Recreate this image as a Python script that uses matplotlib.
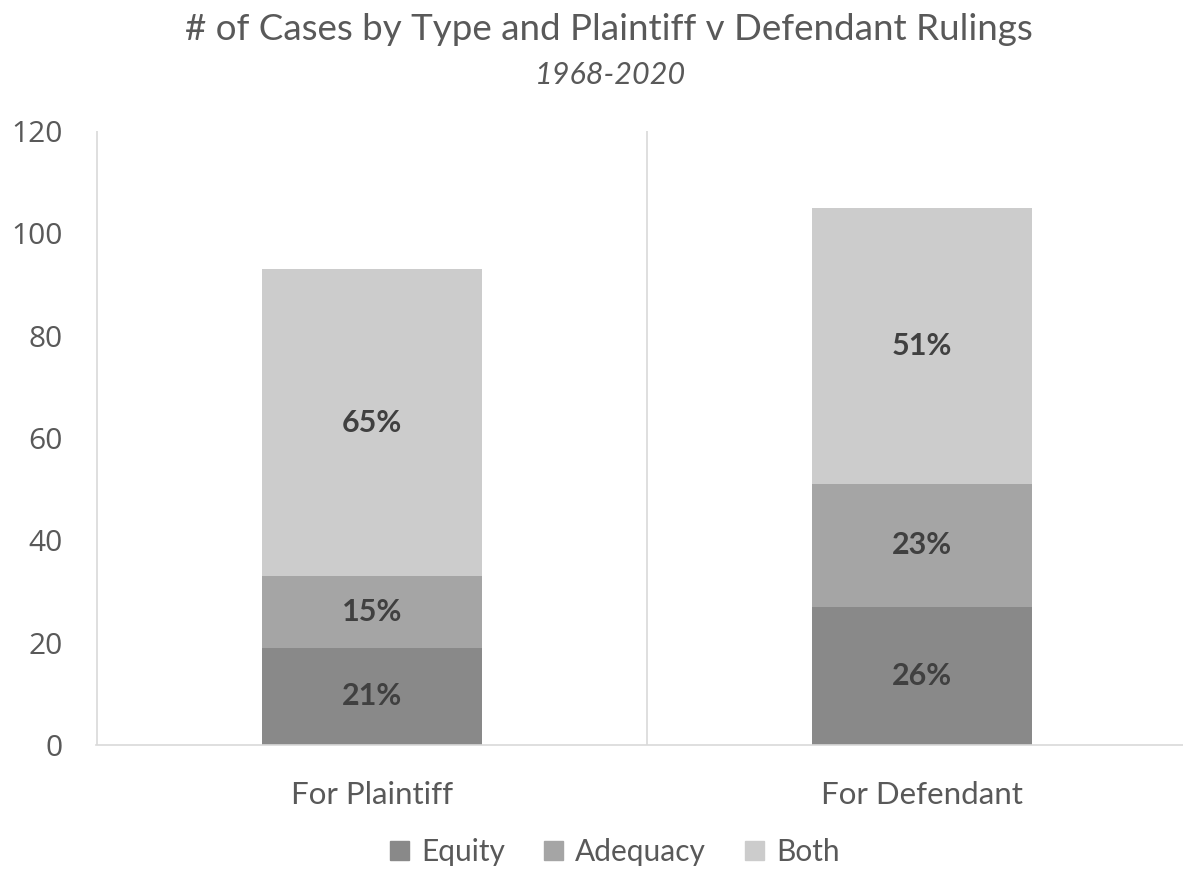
import matplotlib
matplotlib.use("Agg")
import matplotlib.pyplot as plt
from matplotlib.patches import Patch

categories = ["For Plaintiff", "For Defendant"]
series_names = ["Equity", "Adequacy", "Both"]
equity = [19, 27]
adequacy = [14, 24]
both = [60, 54]
pct_labels = {
    "Equity": ["21%", "26%"],
    "Adequacy": ["15%", "23%"],
    "Both": ["65%", "51%"],
}
yticks = [0, 20, 40, 60, 80, 100, 120]

colors = {"Equity": "#898989", "Adequacy": "#a5a5a5", "Both": "#cccccc"}
txt = "#595959"
font = "Lato"

fig = plt.figure(figsize=(11.83, 8.73), dpi=100)
ax = fig.add_axes([96 / 1183, 128 / 873, 1 - 96 / 1183, (745 - 131) / 873])

x = list(range(len(categories)))
bottom = [0, 0]
for name, vals in zip(series_names, [equity, adequacy, both]):
    bars = ax.bar(x, vals, width=0.4, bottom=bottom, color=colors[name], zorder=2)
    for i, b in enumerate(bars):
        ax.text(b.get_x() + b.get_width() / 2, bottom[i] + vals[i] / 2,
                pct_labels[name][i], ha="center", va="center",
                fontsize=22, fontweight="bold", color="#404040", family=font)
    bottom = [bo + v for bo, v in zip(bottom, vals)]

ax.set_ylim(0, 120)
ax.set_xlim(-0.502, 1.4745)
ax.set_yticks(yticks)
ax.set_yticklabels([str(t) for t in yticks], fontsize=21.5, color=txt, family="Open Sans")
ax.set_xticks(x)
ax.set_xticklabels(categories, fontsize=22.5, color=txt, family=font)
ax.tick_params(axis="both", length=0)
ax.tick_params(axis="y", pad=24)
ax.tick_params(axis="x", pad=26)
for s in ["top", "right", "left"]:
    ax.spines[s].set_visible(False)
ax.spines["bottom"].set_color("#d9d9d9")
ax.spines["bottom"].set_linewidth(1.2)
for xv in [-0.5, 0.5]:
    ax.axvline(xv, color="#d9d9d9", lw=1.2, zorder=1)

fig.text(609 / 1183, 1 - 30 / 873, "# of Cases by Type and Plaintiff v Defendant Rulings",
         ha="center", va="center", fontsize=26.5, color=txt, family=font)
fig.text(611 / 1183, 1 - 75 / 873, "1968-2020", ha="center", va="center",
         fontsize=22, color=txt, family=font, style="italic")

handles = [Patch(color=colors[n]) for n in series_names]
fig.legend(handles, series_names, loc="center", bbox_to_anchor=(615 / 1183, 1 - 852 / 873),
           ncol=3, frameon=False, labelcolor=txt,
           prop={"family": font, "size": 21.5}, handlelength=0.65, handleheight=0.65,
           handletextpad=0.4, columnspacing=1.3)

fig.savefig("out.png", dpi=100)
